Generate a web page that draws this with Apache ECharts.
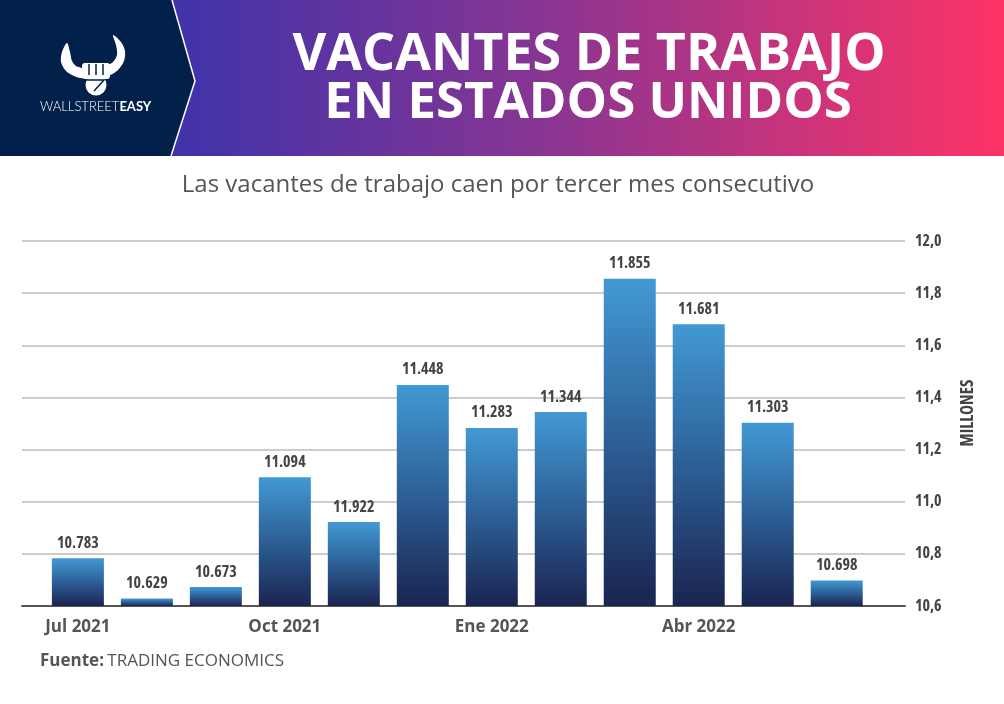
<!DOCTYPE html>
<html>
<head>
<meta charset="utf-8">
<script src="https://cdn.jsdelivr.net/npm/echarts@6.0.0/dist/echarts.min.js"></script>
<style>
html,body{margin:0;padding:0;background:#fff;}
#chart{width:1004px;height:704px;}
</style>
</head>
<body>
<div id="chart"></div>
<script>
// ---- data ----
const categories = ['Jul 2021','Ago 2021','Sep 2021','Oct 2021','Nov 2021','Dic 2021','Ene 2022','Feb 2022','Mar 2022','Abr 2022','May 2022','Jun 2022'];
const values = [10.783, 10.629, 10.673, 11.094, 10.922, 11.448, 11.283, 11.344, 11.855, 11.681, 11.303, 10.698];
const valueLabels = ['10.783','10.629','10.673','11.094','11.922','11.448','11.283','11.344','11.855','11.681','11.303','10.698'];
const shownCategoryIdx = [0, 3, 6, 9];

const navy = '#01214b';
const narrowFamily = "'Open Sans',sans-serif";
const narrowWeight = 'bold condensed';

const chart = echarts.init(document.getElementById('chart'), null, {renderer:'canvas'});

const option = {
  backgroundColor: '#ffffff',
  animation: false,
  graphic: [
    { type:'rect', z:0, shape:{x:0,y:0,width:1004,height:156},
      style:{ fill: new echarts.graphic.LinearGradient(0,0,1,0,[
        {offset:0,color:'#3c33ab'},{offset:0.2,color:'#4433a8'},
        {offset:0.55,color:'#8a3592'},{offset:1,color:'#ff3366'}]) } },
    { type:'polygon', z:1, shape:{points:[[0,0],[172,0],[195,81],[171,156],[0,156]]},
      style:{ fill:navy } },
    { type:'polyline', z:2, shape:{points:[[172,0],[195,81],[171,156]]},
      style:{ stroke:'#ffffff', lineWidth:1.5, fill:null } },
    // logo horns
    { type:'polygon', z:3, shape:{ smooth:0.3, points:[[67,43],[62,52],[61,62],[66,71],[74,76],[83,78],[83,69],[76,66],[72,61],[70,52]] }, style:{ fill:'#ffffff' } },
    { type:'polygon', z:3, shape:{ smooth:0.3, points:[[113,35],[121,42],[125,51],[124,61],[118,70],[109,75],[106,67],[113,62],[117,55],[116,45]] }, style:{ fill:'#ffffff' } },
    // fist
    { type:'circle', z:3, shape:{cx:96,cy:85,r:10.5}, style:{ fill:'#ffffff' } },
    { type:'rect', z:3, shape:{x:82,y:63,width:28,height:16,r:3}, style:{ fill:'#ffffff' } },
    { type:'line', z:4, shape:{x1:89,y1:64,x2:89,y2:75}, style:{ stroke:navy, lineWidth:1.5 } },
    { type:'line', z:4, shape:{x1:96,y1:64,x2:96,y2:75}, style:{ stroke:navy, lineWidth:1.5 } },
    { type:'line', z:4, shape:{x1:103,y1:64,x2:103,y2:75}, style:{ stroke:navy, lineWidth:1.5 } },
    { type:'polyline', z:4, shape:{points:[[86,80],[104,80],[94,91]]}, style:{ stroke:navy, lineWidth:1.5, fill:null } },
    { type:'text', z:3, left:40, top:100,
      style:{ text:'{a|WALLSTREET}{b|EASY}', rich:{
        a:{ fill:'#ffffff', fontSize:13, fontFamily:'Lato, sans-serif', fontWeight:300 },
        b:{ fill:'#ffffff', fontSize:13, fontFamily:'Lato, sans-serif', fontWeight:'bold' } } } },
    // title
    { type:'text', z:3, x:589, y:55,
      style:{ text:'VACANTES DE TRABAJO', fill:'#ffffff', fontSize:52, fontWeight:'bold',
        fontFamily:"'Open Sans',sans-serif", align:'center', verticalAlign:'middle' } },
    { type:'text', z:3, x:588, y:103,
      style:{ text:'EN ESTADOS UNIDOS', fill:'#ffffff', fontSize:51, fontWeight:'bold',
        fontFamily:"'Open Sans',sans-serif", align:'center', verticalAlign:'middle' } },
    // subtitle
    { type:'text', z:3, x:498, y:185,
      style:{ text:'Las vacantes de trabajo caen por tercer mes consecutivo', fill:'#555555', fontSize:24,
        fontFamily:"'Open Sans',sans-serif", align:'center', verticalAlign:'middle' } },
    // y-axis name
    { type:'text', z:3, x:968, y:413, rotation:Math.PI/2,
      style:{ text:'MILLONES', fill:'#444444', fontSize:17, fontWeight:narrowWeight,
        fontFamily:narrowFamily, align:'center', verticalAlign:'middle' } },
    // footer
    { type:'text', z:3, left:40, top:653,
      style:{ text:'{a|Fuente:} {b|TRADING ECONOMICS}', rich:{
        a:{ fill:'#555555', fontSize:17, fontWeight:'bold', fontFamily:"'Open Sans',sans-serif" },
        b:{ fill:'#555555', fontSize:17, fontFamily:"'Open Sans',sans-serif" } } } }
  ],
  grid: { left:22, right:99, top:241, bottom:98, containLabel:false },
  xAxis: {
    type:'value', min:-0.81, max:11.99,
    splitLine:{show:false},
    axisTick:{show:false},
    axisLine:{ show:true, onZero:false, lineStyle:{ color:'#555555', width:2 } },
    axisLabel:{
      customValues: shownCategoryIdx,
      formatter: v => categories[Math.round(v)] || '',
      color:'#555555', fontSize:17, fontWeight:'bold', fontFamily:"'Open Sans',sans-serif", margin:13
    }
  },
  yAxis: {
    type:'value', position:'right', min:10.6, max:12.0, interval:0.2,
    axisLine:{show:false}, axisTick:{show:false},
    splitLine:{ show:true, lineStyle:{ color:'#bbbbbb', width:1.5 } },
    axisLabel:{
      formatter: v => v.toFixed(1).replace('.', ','),
      color:'#444444', fontSize:16, fontWeight:narrowWeight, fontFamily:narrowFamily, margin:10
    }
  },
  series: [{
    type:'bar',
    barWidth:52,
    data: values.map((v,i) => [i, v]),
    itemStyle:{
      color: new echarts.graphic.LinearGradient(0,0,0,1,[
        {offset:0,color:'#4299d4'},{offset:0.5,color:'#2d5f96'},{offset:1,color:'#1a2450'}])
    },
    label:{
      show:true, position:'top', distance:7,
      formatter: p => valueLabels[p.dataIndex],
      color:'#444444', fontSize:16, fontWeight:narrowWeight, fontFamily:narrowFamily
    }
  }]
};
chart.setOption(option);
</script>
</body>
</html>
